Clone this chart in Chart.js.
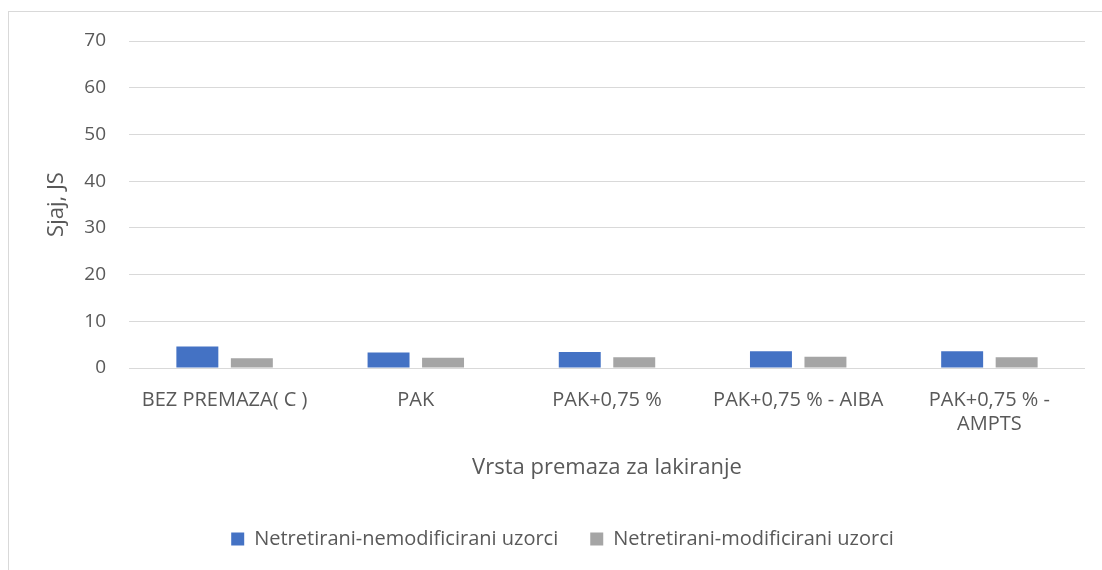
<!DOCTYPE html>
<html>
<head>
<meta charset="utf-8">
<script src="https://cdn.jsdelivr.net/npm/chart.js@4/dist/chart.umd.min.js"></script>
<style>
  html, body { margin: 0; padding: 0; background: #fff; }
  #wrap { position: relative; width: 1102px; height: 570px; overflow: hidden; }
  #frame { position: absolute; left: 8px; top: 11px; width: 1200px; height: 700px; border: 1px solid #d9d9d9; box-sizing: border-box; }
  canvas { position: absolute; left: 0; top: 0; }
</style>
</head>
<body>
<div id="wrap">
  <div id="frame"></div>
  <canvas id="chart" width="1102" height="570"></canvas>
</div>
<script>
// categories (multi-line where the original wraps)
const categories = [
  'BEZ PREMAZA( C )',
  'PAK',
  'PAK+0,75 %',
  'PAK+0,75 % - AIBA',
  ['PAK+0,75 % -', 'AMPTS']
]
const seriesNames = ['Netretirani-nemodificirani uzorci', 'Netretirani-modificirani uzorci']
const nemodificirani = [4.6, 3.3, 3.4, 3.6, 3.6]
const modificirani = [2.1, 2.2, 2.3, 2.4, 2.3]
const yTicks = [0, 10, 20, 30, 40, 50, 60, 70]

const textColor = '#595959'
const font = 'Open Sans'

let ctx = document.getElementById('chart').getContext('2d')

let config = {
  type: 'bar',
  data: {
    labels: categories,
    datasets: [
      {
        label: seriesNames[0],
        data: nemodificirani,
        backgroundColor: '#4472c4',
        categoryPercentage: 0.57,
        barPercentage: 0.77
      },
      {
        label: seriesNames[1],
        data: modificirani,
        backgroundColor: '#a5a5a5',
        categoryPercentage: 0.57,
        barPercentage: 0.77
      }
    ]
  },
  options: {
    responsive: false,
    animation: false,
    layout: { padding: { left: 40, right: 17, top: 41, bottom: 11 } },
    plugins: {
      legend: {
        position: 'bottom',
        labels: {
          color: textColor,
          font: { family: font, size: 20 },
          boxWidth: 13,
          boxHeight: 13,
          padding: 32
        }
      },
      tooltip: { enabled: false }
    },
    scales: {
      x: {
        grid: { display: false, drawTicks: false },
        border: { display: false },
        ticks: {
          color: textColor,
          font: { family: font, size: 20 },
          maxRotation: 0,
          autoSkip: false,
          padding: 20
        },
        title: {
          display: true,
          text: 'Vrsta premaza za lakiranje',
          color: textColor,
          font: { family: font, size: 22 },
          padding: { top: 16, bottom: 16 }
        },
        afterFit: (axis) => { axis.height = 129 }
      },
      y: {
        min: 0,
        max: 70,
        afterBuildTicks: (axis) => { axis.ticks = yTicks.map(v => ({ value: v })) },
        grid: { color: '#d9d9d9', lineWidth: 1, drawTicks: false },
        border: { display: false },
        ticks: {
          color: textColor,
          font: { family: font, size: 19 },
          padding: 23
        },
        title: {
          display: true,
          text: 'Sjaj, JS',
          color: textColor,
          font: { family: font, size: 22 },
          padding: { top: 4, bottom: 4 }
        },
        afterFit: (axis) => { axis.width = 89 }
      }
    }
  }
}

new Chart(ctx, config)
</script>
</body>
</html>
